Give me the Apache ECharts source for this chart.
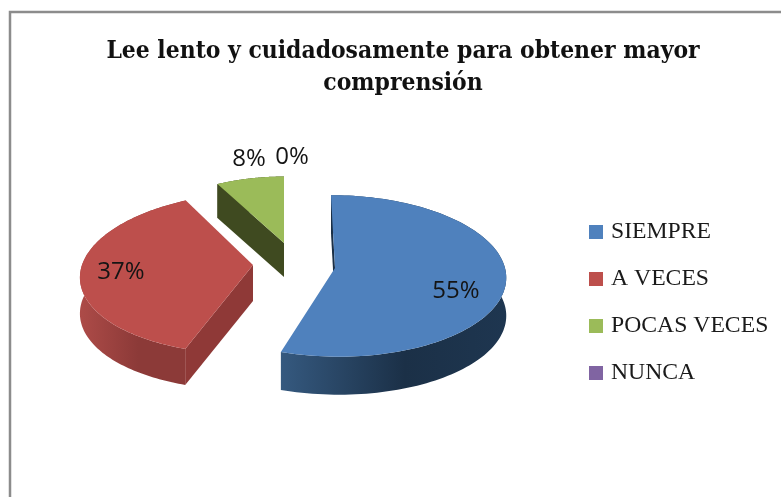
<!DOCTYPE html>
<html>
<head>
<meta charset="utf-8">
<style>html,body{margin:0;padding:0;background:#fff}#c{width:781px;height:497px}</style>
<script src="https://cdn.jsdelivr.net/npm/echarts@6/dist/echarts.min.js"></script>
</head>
<body>
<div id="c"></div>
<script>
const categories = ['SIEMPRE', 'A VECES', 'POCAS VECES', 'NUNCA'];
const values = [55, 37, 8, 0];
const titleText = 'Lee lento y cuidadosamente para obtener mayor\ncomprensión';
const colors = ['#4f81bd', '#bd4f4c', '#9bbb59', '#8064a2'];

// layout of each exploded slice on the projected (3D-looking) plane
const apexX = [335, 253, 284, 284];
const apexY = [268, 265, 243, 243];
const radiusX = [170, 171, 150, 150];
const radiusY = [80, 80, 73, 73];
const skew = [4, -10, 0, 0];
const depth = [38, 36, 34, 34];
const labelDX = [121, -132, -35, 8];
const labelDY = [23, 7, -84, -86];
const rimStops = [
  ['#35597f', '#1b3047', '#1e3650'],
  ['#ad4b48', '#8c3a38', '#8c3a38'],
  ['#3f4a20', '#3f4a20', '#3f4a20'],
  ['#4d3c62', '#4d3c62', '#4d3c62']
];
const wallColors = ['#1b3047', '#8f3937', '#3f4a20', '#4d3c62'];
const perspective = 0.098;

const total = values.reduce((a, b) => a + b, 0);
const startFractions = values.map((_, i) => values.slice(0, i).reduce((a, b) => a + b, 0) / total);

function project(i, theta) {
  const X = Math.sin(theta), v = -Math.cos(theta);
  const s = 1 / (1 - perspective * v);
  return [apexX[i] + radiusX[i] * X * s + skew[i] * v, apexY[i] + radiusY[i] * v * s];
}

function renderSlice(params, api) {
  const i = params.seriesIndex;
  const value = api.value(0);
  const children = [];
  const a0 = api.value(1) * 2 * Math.PI;
  const a1 = a0 + value / total * 2 * Math.PI;
  const d = depth[i];
  const down = p => [p[0], p[1] + d];
  const apex = [apexX[i], apexY[i]];
  if (value > 0) {
    const arc = [];
    const n = 120;
    for (let k = 0; k <= n; k++) arc.push(project(i, a0 + (a1 - a0) * k / n));
    const stops = rimStops[i];
    children.push({
      type: 'polygon',
      shape: { points: arc.concat(arc.map(down).reverse()) },
      style: {
        fill: new echarts.graphic.LinearGradient(0, 0, 1, 0, [
          { offset: 0, color: stops[0] },
          { offset: 0.55, color: stops[1] },
          { offset: 1, color: stops[2] }
        ])
      }
    });
    const first = arc[0];
    children.push({
      type: 'polygon',
      shape: { points: [first, apex, down(apex), down(first)] },
      style: { fill: wallColors[i] }
    });
    children.push({
      type: 'polygon',
      shape: { points: [apex].concat(arc) },
      style: { fill: api.visual('color') }
    });
  }
  children.push({
    type: 'text',
    style: {
      text: Math.round(value / total * 100) + '%',
      x: apexX[i] + labelDX[i],
      y: apexY[i] + labelDY[i],
      align: 'center',
      verticalAlign: 'middle',
      fill: '#141414',
      font: '24px "Open Sans"'
    }
  });
  return { type: 'group', children };
}

const chart = echarts.init(document.getElementById('c'), null, { renderer: 'canvas' });
chart.setOption({
  animation: false,
  backgroundColor: '#ffffff',
  title: {
    text: titleText,
    left: 403,
    top: 36,
    padding: 0,
    textAlign: 'center',
    textStyle: {
      fontFamily: 'DejaVu Serif Condensed',
      fontWeight: 'bold',
      fontSize: 24.4,
      lineHeight: 32,
      color: '#111111'
    }
  },
  legend: {
    orient: 'vertical',
    left: 589,
    top: 220,
    padding: 0,
    icon: 'rect',
    itemWidth: 14,
    itemHeight: 14,
    itemGap: 23,
    itemStyle: { borderWidth: 0 },
    data: categories,
    selectedMode: false,
    textStyle: {
      fontFamily: 'Liberation Serif',
      fontSize: 23.7,
      lineHeight: 24,
      color: '#1a1a1a',
      padding: [0, 0, 0, 3]
    }
  },
  graphic: [{
    type: 'polyline',
    shape: { points: [[10, 497], [10, 12], [781, 12]] },
    style: { stroke: '#8c8c8c', lineWidth: 2.5, fill: 'none' },
    silent: true
  }],
  series: categories.map((name, i) => ({
    type: 'custom',
    name,
    coordinateSystem: 'none',
    silent: true,
    itemStyle: { color: colors[i] },
    renderItem: renderSlice,
    data: [[values[i], startFractions[i]]]
  }))
});
</script>
</body>
</html>
